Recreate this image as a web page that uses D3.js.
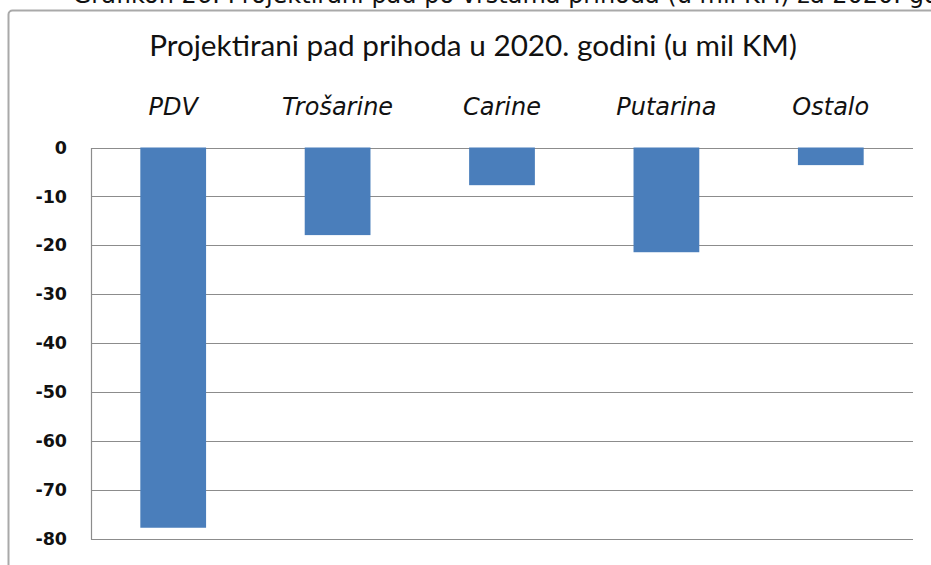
<!DOCTYPE html>
<html><head><meta charset="utf-8">
<script src="https://cdn.jsdelivr.net/npm/d3@7"></script>
<style>html,body{margin:0;padding:0;background:#fff;overflow:hidden}</style>
</head><body>
<svg id="c" width="931" height="565"></svg>
<script>
const categories = ["PDV", "Trošarine", "Carine", "Putarina", "Ostalo"];
const values = [-77.7, -17.9, -7.7, -21.4, -3.6];
const yTicks = [0, -10, -20, -30, -40, -50, -60, -70, -80];
const chartTitle = "Projektirani pad prihoda u 2020. godini (u mil KM)";
const captionText = "Grafikon 26: Projektirani pad po vrstama prihoda (u mil KM) za 2020. godinu";

const svg = d3.select("#c");
const W = 931, H = 565;
svg.append("rect").attr("width", W).attr("height", H).attr("fill", "#fff");

// caption (cut off at top, as in the reference)
const capFont = "'DejaVu Sans', Verdana, sans-serif";
const cap = svg.append("text").attr("font-family", capFont).attr("font-size", 24)
  .attr("fill", "#111").attr("y", 3).text(captionText);
const tmp = svg.append("text").attr("font-family", capFont).attr("font-size", 24)
  .text("Grafikon 26: Projektirani pad po vrstama prihoda (u mil KM) za 2020. ");
const pre = tmp.node().getComputedTextLength(); tmp.remove();
cap.attr("x", 901 - pre);

// frame
svg.append("rect").attr("x", 8.5).attr("y", 10.5).attr("width", 960).attr("height", 600)
  .attr("rx", 4).attr("fill", "#fff").attr("stroke", "#a9a9a9").attr("stroke-width", 2);

// title
const title = svg.append("text").attr("font-family", "Lato, 'Open Sans', sans-serif")
  .attr("font-size", 26).attr("text-anchor", "middle").attr("x", 473).attr("y", 56)
  .attr("fill", "#111").text(chartTitle);
const tw = title.node().getComputedTextLength();
title.attr("font-size", 26 * 648 / tw);

const x = d3.scaleBand().domain(categories).range([91, 913]).paddingInner(0.6).paddingOuter(0.3);
const y = d3.scaleLinear().domain([-80, 0]).range([539, 147.5]);

// gridlines
svg.append("g").selectAll("line").data(yTicks).join("line")
  .attr("x1", 91).attr("x2", 913)
  .attr("y1", d => Math.round(y(d)) + 0.5).attr("y2", d => Math.round(y(d)) + 0.5)
  .attr("stroke", "#8c8c8c").attr("stroke-width", 1.2);

// y axis
const yAxis = d3.axisLeft(y).tickValues(yTicks).tickSize(0).tickPadding(24).tickFormat(d => String(d));
const ga = svg.append("g").attr("transform", "translate(91,0)").call(yAxis);
ga.select(".domain").attr("stroke", "#8c8c8c").attr("stroke-width", 1.2);
ga.selectAll("text").attr("font-family", "'DejaVu Sans', Verdana, sans-serif")
  .attr("font-size", 17.5).attr("font-weight", "bold").attr("fill", "#111");

// bars
svg.append("g").selectAll("rect").data(categories).join("rect")
  .attr("x", d => x(d)).attr("width", x.bandwidth())
  .attr("y", (d, i) => y(0)).attr("height", (d, i) => y(values[i]) - y(0))
  .attr("fill", "#4a7ebb");

// category labels on top
svg.append("g").selectAll("text").data(categories).join("text")
  .attr("x", d => x(d) + x.bandwidth() / 2).attr("y", 115)
  .attr("text-anchor", "middle").attr("font-family", "'DejaVu Sans', Verdana, sans-serif")
  .attr("font-style", "italic").attr("font-size", 24).attr("fill", "#111").text(d => d);
</script>
</body></html>
